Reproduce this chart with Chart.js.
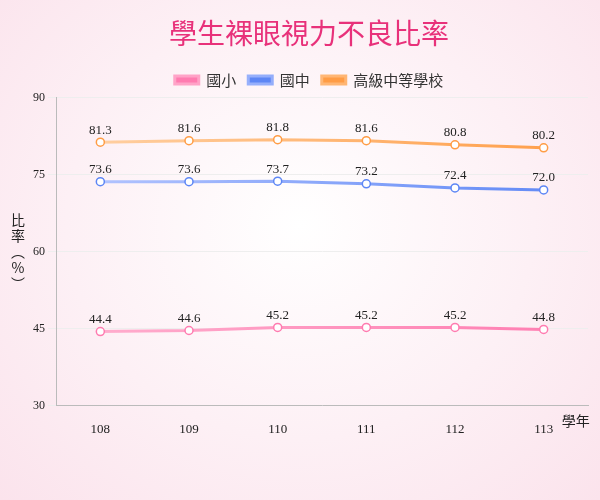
<!DOCTYPE html>
<html><head><meta charset="utf-8">
<script src="https://cdn.jsdelivr.net/npm/chart.js@4"></script>
<style>
html,body{margin:0;padding:0;}
body{width:600px;height:500px;background:radial-gradient(ellipse at 50% 45%, #ffffff 0%, #fdf0f5 55%, #fbe3ec 100%);font-family:"Noto Sans CJK TC","Noto Sans",sans-serif;}
#wrap{position:absolute;left:0;top:0;width:600px;height:500px;}
</style></head>
<body><div id="wrap"><canvas id="c" width="600" height="500"></canvas></div>
<script>
const years = ['108', '109', '110', '111', '112', '113'];
const elementary = [44.4, 44.6, 45.2, 45.2, 45.2, 44.8];
const junior = [73.6, 73.6, 73.7, 73.2, 72.4, 72.0];
const senior = [81.3, 81.6, 81.8, 81.6, 80.8, 80.2];

// 線條由淺到深的漸層
function grad(light, dark) {
    return ctx => {
        const area = ctx.chart.chartArea;
        if (!area) return dark;
        const g = ctx.chart.ctx.createLinearGradient(area.left, 0, area.right, 0);
        g.addColorStop(0, light);
        g.addColorStop(1, dark);
        return g;
    };
}

function serie(label, data, light, dark) {
    return {
        label, data,
        borderColor: grad(light, dark),
        backgroundColor: dark,
        borderWidth: 3,
        pointBackgroundColor: '#fff',
        pointBorderColor: dark,
        pointBorderWidth: 1.5,
        pointRadius: 4,
        tension: 0
    };
}

const labelPlugin = {
    id: 'valores',
    afterDatasetsDraw(chart) {
        const c = chart.ctx;
        c.save();
        c.font = '13px "Liberation Serif", serif';
        c.fillStyle = '#222';
        c.textAlign = 'center';
        chart.data.datasets.forEach((ds, i) => {
            chart.getDatasetMeta(i).data.forEach((p, j) => {
                c.fillText(ds.data[j].toFixed(1), p.x, p.y - 12);
            });
        });
        c.restore();
    }
};

new Chart(document.getElementById('c'), {
    type: 'line',
    data: {
        labels: years,
        datasets: [
            serie('國小', elementary, '#ffb0cf', '#ff7bb0'),
            serie('國中', junior, '#b8c8ff', '#5d86f5'),
            serie('高級中等學校', senior, '#ffd3a8', '#ff9c45')
        ]
    },
    options: {
        responsive: false,
        animation: false,
        layout: { padding: { top: 5, right: 12, left: 30, bottom: 55 } },
        plugins: {
            title: {
                display: true, text: '學生裸眼視力不良比率', color: '#e8317a',
                font: { size: 28, family: '"Noto Sans CJK TC"', weight: 'normal' }, padding: { top: 12, bottom: 10 }
            },
            legend: {
                labels: { boxWidth: 24, boxHeight: 8, color: '#333', padding: 12, font: { size: 15, family: '"Noto Sans CJK TC"' } }
            },
            tooltip: { enabled: false }
        },
        scales: {
            x: {
                offset: true,
                grid: { display: false },
                border: { color: '#bbb' },
                ticks: { color: '#222', padding: 8, font: { size: 13, family: '"Liberation Serif", serif' } }
            },
            y: {
                min: 30, max: 90,
                ticks: { stepSize: 15, color: '#222', font: { size: 12, family: '"Liberation Serif", serif' } },
                grid: { color: '#eee' },
                border: { color: '#bbb' }
            }
        }
    },
    plugins: [labelPlugin, {
        id: 'unidad',
        afterDraw(chart) {
            const c = chart.ctx, x = chart.scales.x, y = chart.scales.y;
            c.save();
            c.font = '14px "Noto Sans CJK TC"';
            c.fillStyle = '#222';
            c.textBaseline = 'middle';
            c.fillText('學年', x.getPixelForValue(5) + 18, x.top + 15);
            c.textAlign = 'center';
            const mid = (y.top + y.bottom) / 2;
            ['比', '率', '︵', '%', '︶'].forEach((ch, i) => c.fillText(ch, 18, mid - 32 + i * 16));
            c.restore();
        }
    }]
});
</script></body></html>
